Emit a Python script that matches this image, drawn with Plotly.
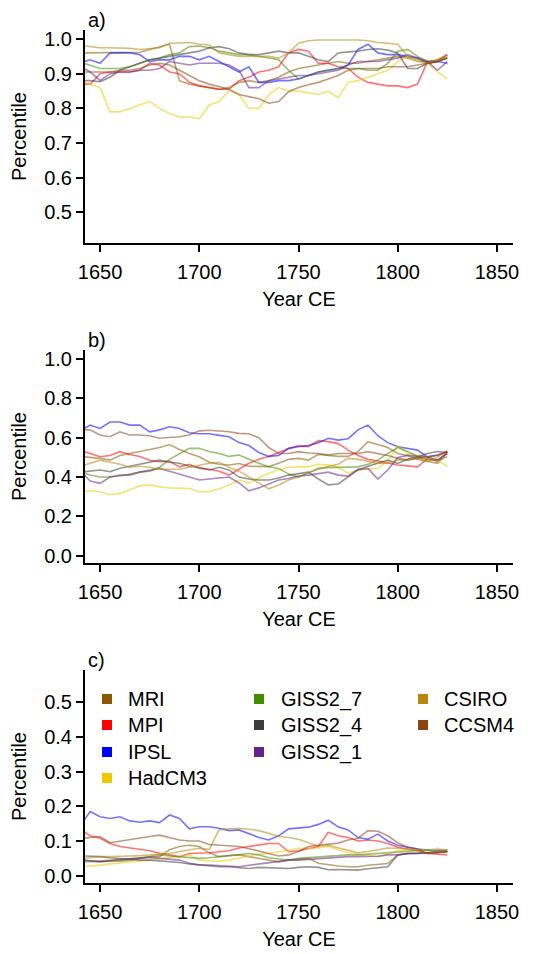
import plotly.graph_objects as go

# Window percentile of each model run, three panels (a, b, c)
years = [1642, 1645, 1650, 1655, 1660, 1665, 1670, 1675, 1680, 1685,
         1690, 1695, 1700, 1705, 1710, 1715, 1720, 1725, 1730, 1735,
         1740, 1745, 1750, 1755, 1760, 1765, 1770, 1775, 1780, 1785,
         1790, 1795, 1800, 1805, 1810, 1815, 1820, 1825]

models = ["MRI", "MPI", "IPSL", "HadCM3", "GISS2_7", "GISS2_4", "GISS2_1", "CSIRO", "CCSM4"]
model_colors = ["#8B5A00", "#FF0000", "#0000FF", "#EEC900", "#458B00",
                "#3D3D3D", "#68228B", "#B8860B", "#8B4513"]

# ---- panel a ----
mri_a = [.96, .96, .96, .96, .96, .96, .962, .97, .978, .985,
         .88, .87, .865, .86, .855, .86, .875, .88, .875, .88,
         .89, .905, .915, .92, .925, .93, .935, .93, .93, .935,
         .94, .945, .95, .945, .935, .935, .94, .955]
mpi_a = [.87, .87, .90, .905, .905, .905, .91, .93, .925, .905,
         .90, .875, .865, .86, .855, .855, .88, .89, .905, .91,
         .92, .96, .97, .965, .93, .93, .92, .915, .89, .875,
         .87, .865, .865, .86, .87, .935, .935, .955]
ipsl_a = [.935, .94, .93, .96, .96, .96, .955, .935, .94, .94,
          .95, .95, .94, .95, .935, .92, .905, .92, .875, .875,
          .88, .88, .885, .895, .905, .91, .915, .925, .97, .985,
          .96, .955, .955, .95, .945, .93, .935, .93]
hadcm3_a = [.875, .87, .86, .79, .79, .80, .81, .82, .80, .785,
            .775, .775, .77, .81, .82, .85, .84, .80, .80, .84,
            .86, .85, .85, .845, .84, .85, .83, .875, .88, .89,
            .90, .91, .935, .95, .935, .93, .905, .885]
giss27_a = [.93, .925, .915, .915, .915, .92, .93, .94, .945, .955,
            .96, .978, .98, .975, .965, .96, .955, .955, .95, .945,
            .94, .91, .885, .895, .905, .91, .915, .915, .915, .91,
            .91, .93, .965, .97, .95, .935, .935, .945]
giss24_a = [.88, .88, .877, .89, .91, .92, .93, .94, .945, .95,
            .955, .96, .965, .975, .978, .972, .96, .955, .955, .96,
            .965, .96, .96, .95, .94, .935, .96, .963, .965, .97,
            .972, .968, .96, .915, .915, .93, .935, .945]
giss21_a = [.915, .905, .88, .90, .905, .905, .91, .91, .915, .935,
            .93, .925, .93, .93, .93, .925, .91, .86, .86, .88,
            .885, .89, .895, .895, .90, .905, .91, .925, .935, .935,
            .935, .94, .945, .955, .945, .935, .91, .935]
csiro_a = [.98, .978, .975, .975, .975, .973, .97, .972, .975, .988,
           .99, .99, .985, .983, .96, .955, .95, .95, .95, .95,
           .945, .96, .988, .995, .997, .997, .998, .997, .997, .995,
           .99, .988, .985, .95, .94, .93, .94, .95]
ccsm4_a = [.905, .905, .905, .905, .91, .91, .915, .925, .93, .925,
           .91, .895, .88, .87, .862, .855, .84, .835, .828, .815,
           .82, .848, .86, .868, .875, .885, .895, .91, .915, .915,
           .915, .92, .92, .92, .925, .93, .935, .945]

# ---- panel b ----
mri_b = [.503, .50, .495, .486, .51, .52, .529, .54, .55, .565,
         .54, .52, .503, .475, .465, .461, .469, .455, .453, .453,
         .47, .49, .495, .486, .515, .51, .505, .505, .529, .58,
         .565, .55, .52, .51, .49, .48, .47, .52]
mpi_b = [.529, .52, .503, .51, .529, .515, .505, .485, .478, .48,
         .452, .465, .444, .44, .43, .41, .44, .47, .49, .505,
         .525, .545, .56, .555, .585, .58, .57, .537, .51, .49,
         .482, .47, .461, .457, .452, .495, .48, .529]
ipsl_b = [.647, .664, .647, .68, .68, .664, .664, .63, .64, .656,
          .647, .625, .62, .62, .612, .605, .575, .56, .525, .505,
          .51, .546, .554, .56, .575, .597, .588, .595, .64, .664,
          .61, .575, .554, .546, .537, .503, .512, .529]
hadcm3_b = [.325, .33, .325, .31, .317, .335, .355, .36, .35, .345,
            .342, .342, .325, .325, .34, .36, .385, .37, .395, .42,
            .436, .45, .452, .452, .465, .462, .45, .42, .435, .44,
            .445, .48, .56, .52, .51, .503, .486, .455]
giss27_b = [.42, .41, .40, .40, .405, .415, .425, .43, .45, .49,
            .52, .546, .546, .53, .52, .505, .512, .49, .47, .452,
            .444, .415, .40, .42, .444, .448, .45, .452, .452, .465,
            .486, .52, .55, .53, .505, .49, .486, .503]
giss24_b = [.427, .43, .436, .427, .445, .455, .465, .475, .486, .475,
            .47, .455, .45, .436, .45, .436, .40, .39, .385, .385,
            .395, .41, .419, .425, .39, .36, .365, .40, .436, .455,
            .47, .486, .469, .49, .503, .52, .53, .525]
giss21_b = [.41, .38, .368, .40, .41, .41, .425, .435, .444, .43,
            .415, .40, .385, .39, .395, .40, .37, .33, .345, .365,
            .385, .393, .405, .41, .419, .425, .41, .405, .44, .444,
            .39, .436, .50, .51, .505, .503, .486, .52]
csiro_b = [.461, .47, .486, .475, .465, .45, .455, .45, .44, .44,
           .44, .45, .46, .47, .475, .45, .43, .40, .37, .34,
           .36, .385, .40, .425, .44, .455, .465, .495, .49, .48,
           .47, .47, .486, .49, .50, .48, .50, .535]
ccsm4_b = [.64, .64, .614, .605, .63, .614, .614, .61, .597, .60,
           .605, .614, .635, .638, .635, .63, .622, .62, .60, .55,
           .52, .52, .529, .522, .52, .512, .52, .52, .52, .529,
           .52, .51, .495, .486, .495, .503, .51, .53]

# ---- panel c ----
mri_c = [.045, .043, .042, .045, .048, .05, .052, .054, .055, .075,
         .084, .088, .084, .066, .055, .058, .06, .055, .05, .045,
         .04, .045, .048, .05, .036, .031, .028, .026, .026, .03,
         .033, .035, .06, .064, .064, .066, .068, .069]
mpi_c = [.127, .115, .108, .093, .084, .08, .077, .072, .065, .06,
         .055, .064, .064, .066, .069, .072, .08, .084, .088, .093,
         .093, .069, .072, .079, .084, .125, .115, .11, .10, .103,
         .10, .093, .082, .077, .072, .064, .062, .06]
ipsl_c = [.161, .185, .17, .165, .17, .158, .154, .158, .153, .175,
          .165, .135, .141, .141, .137, .13, .132, .12, .11, .103,
          .115, .135, .137, .14, .148, .16, .141, .132, .11, .105,
          .12, .10, .088, .082, .077, .074, .074, .074]
hadcm3_c = [.026, .028, .031, .033, .036, .04, .042, .045, .048, .05,
            .055, .06, .045, .043, .042, .045, .05, .055, .062, .064,
            .068, .074, .079, .079, .08, .084, .076, .066, .062, .058,
            .055, .062, .072, .074, .074, .074, .079, .074]
giss27_c = [.04, .04, .04, .04, .042, .045, .05, .055, .06, .057,
            .055, .052, .05, .052, .055, .06, .062, .064, .06, .052,
            .048, .045, .05, .052, .055, .055, .058, .06, .06, .062,
            .064, .066, .068, .072, .074, .074, .07, .074]
giss24_c = [.057, .057, .055, .052, .05, .046, .045, .045, .043, .04,
            .038, .034, .031, .028, .026, .026, .024, .021, .024, .023,
            .021, .021, .024, .026, .024, .017, .018, .016, .016, .02,
            .024, .026, .06, .064, .064, .066, .07, .069]
giss21_c = [.045, .043, .04, .043, .045, .048, .05, .053, .05, .048,
            .045, .036, .031, .031, .03, .027, .026, .03, .034, .038,
            .042, .045, .045, .047, .05, .05, .052, .055, .055, .055,
            .056, .06, .06, .064, .064, .064, .066, .069]
csiro_c = [.05, .052, .055, .055, .057, .057, .058, .06, .062, .064,
           .07, .074, .079, .076, .133, .135, .137, .134, .13, .122,
           .113, .11, .105, .095, .085, .088, .08, .074, .066, .07,
           .074, .08, .079, .076, .074, .064, .068, .069]
ccsm4_c = [.108, .11, .113, .095, .10, .105, .11, .113, .117, .11,
           .103, .10, .10, .09, .088, .084, .084, .078, .072, .064,
           .057, .06, .07, .084, .088, .09, .094, .103, .108, .13,
           .128, .115, .095, .082, .077, .064, .066, .07]

panel_series = [
    [mri_a, mpi_a, ipsl_a, hadcm3_a, giss27_a, giss24_a, giss21_a, csiro_a, ccsm4_a],
    [mri_b, mpi_b, ipsl_b, hadcm3_b, giss27_b, giss24_b, giss21_b, csiro_b, ccsm4_b],
    [mri_c, mpi_c, ipsl_c, hadcm3_c, giss27_c, giss24_c, giss21_c, csiro_c, ccsm4_c],
]
panel_labels = ["a)", "b)", "c)"]
y_ranges = [[0.412, 1.026], [-0.037, 1.046], [-0.021, 0.593]]
y_ticks = [[0.5, 0.6, 0.7, 0.8, 0.9, 1.0],
           [0.0, 0.2, 0.4, 0.6, 0.8, 1.0],
           [0.0, 0.1, 0.2, 0.3, 0.4, 0.5]]
x_ticks = [1650, 1700, 1750, 1800, 1850]

W, H = 539, 954
FONT = "Liberation Sans, Arial, Helvetica, sans-serif"
FS = 20

# panel boxes in pixels (top, bottom) and shared left/right
left_px, right_px = 85, 513
panel_px = [(30, 243), (350, 563), (670, 883)]


def rgba(hex_color, alpha):
    h = hex_color.lstrip("#")
    r, g, b = int(h[0:2], 16), int(h[2:4], 16), int(h[4:6], 16)
    return f"rgba({r},{g},{b},{alpha})"


fig = go.Figure()
layout = {}
annotations = []
shapes = []

for p in range(3):
    xname = "x" if p == 0 else f"x{p + 1}"
    yname = "y" if p == 0 else f"y{p + 1}"
    for name, col, vals in zip(models, model_colors, panel_series[p]):
        fig.add_trace(go.Scatter(
            x=years, y=vals, mode="lines", name=name,
            line=dict(color=rgba(col, 0.55), width=1.6),
            xaxis=xname, yaxis=yname, showlegend=False,
            hoverinfo="skip"))

    top, bot = panel_px[p]
    xkey = "xaxis" if p == 0 else f"xaxis{p + 1}"
    ykey = "yaxis" if p == 0 else f"yaxis{p + 1}"
    layout[xkey] = dict(
        domain=[left_px / W, right_px / W], anchor=yname, automargin=False,
        range=[1642.4, 1858.1], tickvals=x_ticks,
        showline=True, linecolor="black", linewidth=2,
        ticks="outside", ticklen=7, tickwidth=2, tickcolor="black",
        ticklabelstandoff=3,
        showgrid=False, zeroline=False,
        tickfont=dict(family=FONT, size=FS, color="black"),
        title=dict(text="Year CE", font=dict(family=FONT, size=FS, color="black"),
                   standoff=10))
    layout[ykey] = dict(
        domain=[1 - bot / H, 1 - top / H], anchor=xname, automargin=False,
        range=y_ranges[p], tickvals=y_ticks[p], tickformat=".1f",
        showline=True, linecolor="black", linewidth=2,
        ticks="outside", ticklen=7, tickwidth=2, tickcolor="black",
        showgrid=False, zeroline=False,
        tickfont=dict(family=FONT, size=FS, color="black"),
        title=dict(text="Percentile", font=dict(family=FONT, size=FS, color="black"),
                   standoff=12))
    annotations.append(dict(
        text=panel_labels[p], xref="paper", yref="paper",
        x=(left_px + 1) / W, y=1 - (top - 10) / H, xanchor="left", yanchor="middle",
        showarrow=False, font=dict(family=FONT, size=FS, color="black")))

# legend block inside panel c: three columns, filled squares
leg_cols = [(102, 126), (254, 279), (418, 442)]
leg_rows = [699, 725, 752, 778]
leg_layout = [[0, 1, 2, 3], [4, 5, 6], [7, 8]]
for c, idxs in enumerate(leg_layout):
    sq_x, tx_x = leg_cols[c]
    for r, i in enumerate(idxs):
        cy = leg_rows[r]
        shapes.append(dict(
            type="rect", xref="paper", yref="paper",
            x0=sq_x / W, x1=(sq_x + 10) / W,
            y0=1 - (cy + 5) / H, y1=1 - (cy - 5) / H,
            fillcolor=model_colors[i], line=dict(width=0)))
        annotations.append(dict(
            text=models[i], xref="paper", yref="paper",
            x=tx_x / W, y=1 - cy / H, xanchor="left", yanchor="middle",
            showarrow=False, font=dict(family=FONT, size=FS, color="black")))

fig.update_layout(
    width=W, height=H,
    margin=dict(l=0, r=0, t=0, b=0),
    paper_bgcolor="white", plot_bgcolor="white",
    showlegend=False,
    annotations=annotations, shapes=shapes,
    **layout)

fig.write_html("out.html")
